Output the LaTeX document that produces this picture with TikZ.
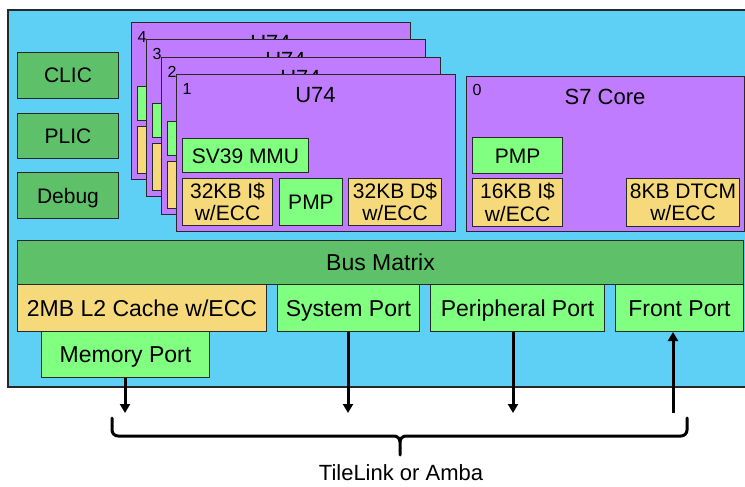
\documentclass[tikz,border=0pt]{standalone}
\usepackage{fontspec}
\setmainfont{Liberation Sans}
\usetikzlibrary{arrows.meta}
\definecolor{bgblue}{RGB}{94,207,245}
\definecolor{corepurple}{RGB}{192,124,255}
\definecolor{dkgreen}{RGB}{94,192,104}
\definecolor{ltgreen}{RGB}{128,255,128}
\definecolor{cacheyel}{RGB}{245,217,122}
\definecolor{edgecol}{RGB}{40,40,40}
\tikzset{
  blk/.style={draw=edgecol, line width=1pt, inner sep=0pt, anchor=north west,
    align=center, font=\fontsize{21}{22.5}\selectfont},
  one/.style={text height=15pt, text depth=0pt},
  wh/.style 2 args={minimum width=#1pt, minimum height=#2pt},
  busblk/.style={blk, font=\fontsize{23}{25}\selectfont, text height=16.5pt, text depth=0pt},
  numlbl/.style={inner sep=0pt, font=\fontsize{16}{17}\selectfont},
  ttl/.style={inner sep=0pt, font=\fontsize{22}{24}\selectfont},
  arr/.style={line width=3pt, -{Triangle[width=10pt,length=9pt]}},
  bracepath/.style={line width=3pt, line cap=round, line join=round},
}
\begin{document}
\begin{tikzpicture}[x=1pt,y=-1pt]
\useasboundingbox (0,0) rectangle (745,487);
\clip (0,0) rectangle (745,487);
\fill[white] (0,0) rectangle (745,487);
% outer block
\draw[draw=edgecol, line width=1.3pt, fill=bgblue] (8,10) rectangle (752,387);

% left blocks
\node[blk, one, fill=dkgreen, wh={101}{46}] (clic) at (17,52) {CLIC};
\node[blk, one, fill=dkgreen, wh={101}{45}] (plic) at (17,113) {PLIC};
\node[blk, one, fill=dkgreen, wh={101}{46}] (debug) at (17,172) {Debug};

% U74 stack
\foreach \n/\x/\y in {4/131/22, 3/146/39, 2/161/57, 1/176/74} {
  \node[blk, fill=corepurple, wh={279}{157}] (u\n) at (\x,\y) {};
  \node[numlbl] (u\n num) at ({\x+11},{\y+15}) {\n};
  \node[ttl] (u\n title) at ({\x+139.5},{\y+21}) {U74};
  \node[blk, one, fill=ltgreen, wh={126}{34}] (u\n mmu) at ({\x+6},{\y+64}) {SV39 MMU};
  \node[blk, fill=cacheyel, wh={90}{47}] (u\n ic) at ({\x+6},{\y+104}) {32KB I\$\\w/ECC};
  \node[blk, one, fill=ltgreen, wh={63}{47}] (u\n pmp) at ({\x+103},{\y+104}) {PMP};
  \node[blk, fill=cacheyel, wh={93}{47}] (u\n dc) at ({\x+172},{\y+104}) {32KB D\$\\w/ECC};
}

% S7 core
\node[blk, fill=corepurple, wh={278}{155}] (s7) at (466,76) {};
\node[numlbl] (s7num) at (477,90) {0};
\node[ttl] (s7title) at (605,97) {S7 Core};
\node[blk, one, fill=ltgreen, wh={90}{36}] (s7pmp) at (472,137) {PMP};
\node[blk, fill=cacheyel, wh={90}{48}] (s7ic) at (472,178) {16KB I\$\\w/ECC};
\node[blk, fill=cacheyel, wh={113}{48}] (s7dt) at (626,178) {8KB DTCM\\w/ECC};

% bus
\node[busblk, fill=dkgreen, wh={726}{44}] (bus) at (17,240) {Bus Matrix};
\node[busblk, fill=cacheyel, wh={249}{47}] (l2) at (17,284) {2MB L2 Cache w/ECC};
\node[busblk, fill=ltgreen, wh={142}{47}] (sys) at (277,284) {System Port};
\node[busblk, fill=ltgreen, wh={174}{47}] (per) at (430,284) {Peripheral Port};
\node[busblk, fill=ltgreen, wh={128}{47}] (front) at (615,284) {Front Port};
\node[busblk, fill=ltgreen, wh={168}{46}] (mem) at (41,331) {Memory Port};

% arrows
\coordinate (m1) at (125,413);
\coordinate (s1) at (348,413);
\coordinate (p1) at (513,413);
\coordinate (f1) at (673,413);
\draw[arr] (m1 |- mem.south) -- (m1);
\draw[arr] (s1 |- sys.south) -- (s1);
\draw[arr] (p1 |- per.south) -- (p1);
\draw[arr] (f1) -- (f1 |- front.south);

% brace
\coordinate (bl) at (112,418);
\coordinate (br) at (687,418);
\coordinate (bm) at (400,455);
\draw[bracepath] (bl) -- (112,430) to[out=-90,in=180] (118,436) -- (394,436)
  to[out=0,in=90] (bm |- 0,442) -- (bm);
\draw[bracepath] (bm |- 0,442) to[out=90,in=180] (406,436) -- (681,436)
  to[out=0,in=-90] (687,430) -- (br);
\node[ttl] (tl) at (401,473) {TileLink or Amba};
\end{tikzpicture}
\end{document}
